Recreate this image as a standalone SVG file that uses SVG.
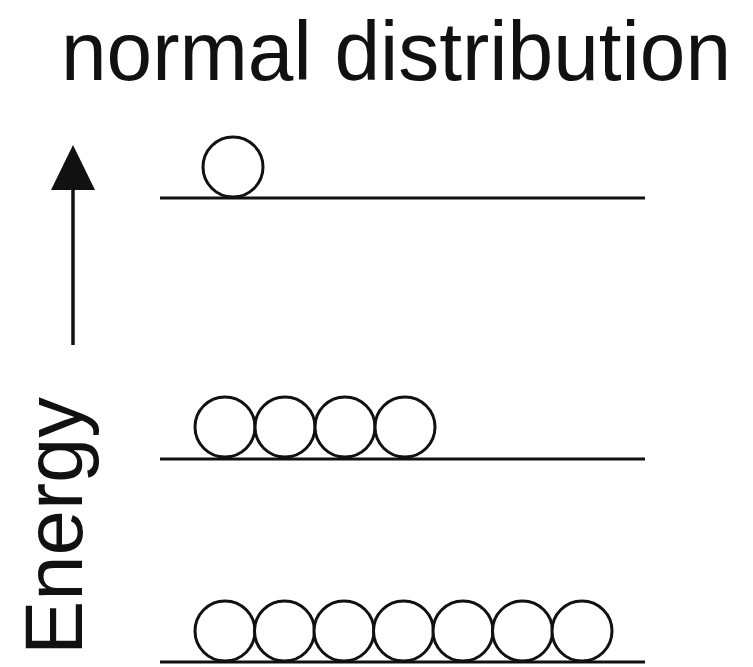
<svg xmlns="http://www.w3.org/2000/svg" width="753" height="667" viewBox="0 0 753 667">
<style>
.lvl{stroke:#111;stroke-width:3;fill:none}
.p{stroke:#111;stroke-width:3;fill:#fff}
.t{font-family:"Liberation Sans",Arial,sans-serif;fill:#111}
</style>
<rect width="753" height="667" fill="#fff"/>
<text class="t" x="61" y="80" font-size="84" textLength="670" lengthAdjust="spacingAndGlyphs">normal distribution</text>
<g id="axis">
<line x1="73" y1="345" x2="73" y2="188" stroke="#111" stroke-width="3.5"/>
<polygon points="73,145 51,190 95,190" fill="#111"/>
<text class="t" transform="translate(82,655) rotate(-90)" font-size="82" textLength="258" lengthAdjust="spacingAndGlyphs">Energy</text>
</g>
<g id="level3">
<line class="lvl" x1="160" y1="198" x2="645" y2="198"/>
<circle class="p" cx="233" cy="167" r="30"/>
</g>
<g id="level2">
<line class="lvl" x1="160" y1="459" x2="645" y2="459"/>
<circle class="p" cx="225" cy="427" r="30"/>
<circle class="p" cx="285" cy="427" r="30"/>
<circle class="p" cx="345" cy="427" r="30"/>
<circle class="p" cx="405" cy="427" r="30"/>
</g>
<g id="level1">
<line class="lvl" x1="160" y1="662" x2="645" y2="662"/>
<circle class="p" cx="225" cy="631" r="30"/>
<circle class="p" cx="284.5" cy="631" r="30"/>
<circle class="p" cx="344" cy="631" r="30"/>
<circle class="p" cx="403.5" cy="631" r="30"/>
<circle class="p" cx="463" cy="631" r="30"/>
<circle class="p" cx="522.5" cy="631" r="30"/>
<circle class="p" cx="582" cy="631" r="30"/>
</g>
</svg>
